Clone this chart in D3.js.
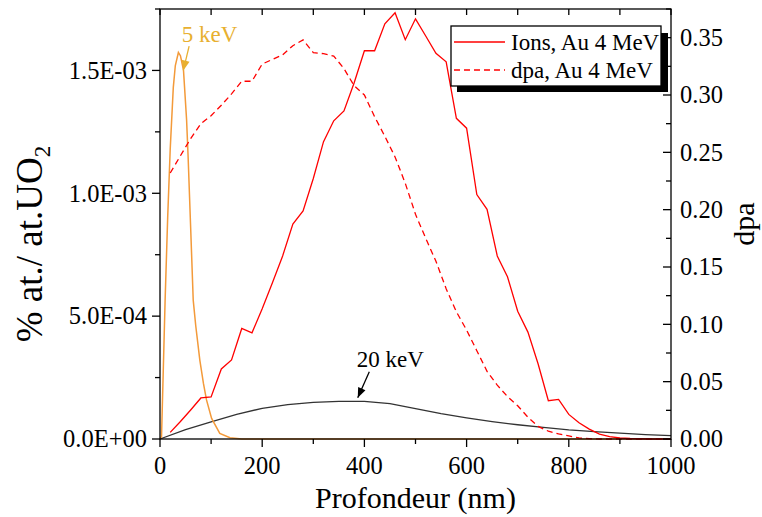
<!DOCTYPE html>
<html><head><meta charset="utf-8">
<script src="https://cdn.jsdelivr.net/npm/d3@7"></script>
<style>body{margin:0;background:#fff}svg{display:block}text{font-family:"Liberation Serif","Times New Roman",serif}</style>
</head><body>
<svg id="c" width="762" height="517"></svg>
<script>
// ---- data ----
const ionsX = [20,40,60,80,100,120,140,160,180,200,220,240,260,280,300,320,340,360,380,400,420,440,460,480,500,520,540,560,580,600,620,640,660,680,700,720,740,760,780,800,820,840,860,880,900,920,940,960,980,1000];
const ionsY = [0.27e-4,0.71e-4,1.18e-4,1.67e-4,1.71e-4,2.85e-4,3.22e-4,4.50e-4,4.32e-4,5.3e-4,6.36e-4,7.45e-4,8.75e-4,9.28e-4,10.6e-4,12.1e-4,12.95e-4,13.35e-4,14.5e-4,15.8e-4,15.8e-4,16.9e-4,17.35e-4,16.25e-4,17.1e-4,16.4e-4,15.7e-4,15.35e-4,13.05e-4,12.65e-4,9.95e-4,9.35e-4,7.45e-4,6.6e-4,5.2e-4,4.35e-4,3.05e-4,1.56e-4,1.61e-4,1.0e-4,0.66e-4,0.40e-4,0.20e-4,0.10e-4,0.04e-4,0.02e-4,0.01e-4,0,0,0];
const dpaX = [20,40,60,80,100,120,140,160,180,200,220,240,260,280,300,320,340,360,380,400,420,440,460,480,500,520,540,560,580,600,620,640,660,680,700,720,740,760,780,800,820,840,860,880,900,920,940,960,980,1000];
const dpaY = [0.232,0.247,0.262,0.275,0.282,0.291,0.301,0.312,0.312,0.327,0.331,0.335,0.343,0.348,0.337,0.336,0.334,0.323,0.308,0.300,0.281,0.264,0.246,0.223,0.196,0.175,0.155,0.131,0.111,0.095,0.077,0.059,0.047,0.037,0.029,0.019,0.011,0.0068,0.0045,0.0027,0.001,0.0003,0,0,0,0,0,0,0,0];
const kev5X = [0,3,10,15,20,26,30,36,40,46,52,55,60,65,70,78,85,91,101,117,137,160,200,400,600,800,1000];
const kev5Y = [0,0.1e-4,5.65e-4,9.0e-4,11.8e-4,14.3e-4,15.2e-4,15.73e-4,15.6e-4,15.0e-4,13.0e-4,11.5e-4,8.6e-4,5.65e-4,4.6e-4,3.2e-4,2.26e-4,1.59e-4,0.84e-4,0.23e-4,0.05e-4,0,0,0,0,0,0];
const kev20X = [0,50,100,150,200,250,300,350,400,450,500,550,600,650,700,750,800,850,900,950,1000];
const kev20Y = [0,0.38e-4,0.70e-4,1.0e-4,1.25e-4,1.40e-4,1.49e-4,1.535e-4,1.535e-4,1.44e-4,1.24e-4,1.03e-4,0.86e-4,0.71e-4,0.58e-4,0.47e-4,0.37e-4,0.30e-4,0.24e-4,0.18e-4,0.135e-4];
const xTicks = [0,200,400,600,800,1000];
const yLeftTicks = [0,5e-4,1e-3,1.5e-3];
const yLeftLabels = ["0.0E+00","5.0E-04","1.0E-03","1.5E-03"];
const yRightTicks = [0,0.05,0.10,0.15,0.20,0.25,0.30,0.35];
const legendLabels = ["Ions, Au 4 MeV","dpa, Au 4 MeV"];

// ---- layout ----
const svg = d3.select("#c");
const L=160,R=671,T=9,B=439;
const x = d3.scaleLinear().domain([0,1000]).range([L,R]);
const yL = d3.scaleLinear().domain([0,1.75e-3]).range([B,T]);
const yR = d3.scaleLinear().domain([0,0.375]).range([B,T]);
const FS=24.5;

// curves
const line = (xs,ys,ys2)=>d3.line().x((d,i)=>x(xs[i])).y((d,i)=>ys2(d))(ys);
svg.append("path").attr("d",line(kev20X,kev20Y,yL)).attr("fill","none").attr("stroke","#333").attr("stroke-width",1.3);
svg.append("path").attr("d",line(kev5X,kev5Y,yL)).attr("fill","none").attr("stroke","#f39a3a").attr("stroke-width",1.5);
svg.append("path").attr("d",line(dpaX,dpaY,yR)).attr("fill","none").attr("stroke","#ff0000").attr("stroke-width",1.3).attr("stroke-dasharray","6,4");
svg.append("path").attr("d",line(ionsX,ionsY,yL)).attr("fill","none").attr("stroke","#ff0000").attr("stroke-width",1.3);

// axes
const ax = svg.append("g").attr("stroke","#000").attr("stroke-width",1.3);
d3.range(0,1001,100).forEach(v=>{
  const maj = v%200===0;
  ax.append("line").attr("x1",x(v)).attr("x2",x(v)).attr("y1",B).attr("y2",B+(maj?8:5));
  ax.append("line").attr("x1",x(v)).attr("x2",x(v)).attr("y1",T).attr("y2",T+6);
});
xTicks.forEach(v=>svg.append("text").attr("x",x(v)).attr("y",B+35).attr("text-anchor","middle").attr("font-size",FS).text(v));
d3.range(0,7.01).forEach(k=>{
  const v=k*2.5e-4, maj=k%2===0;
  ax.append("line").attr("x1",L-(maj?8:5)).attr("x2",L).attr("y1",yL(v)).attr("y2",yL(v));
});
yLeftTicks.forEach((v,i)=>svg.append("text").attr("x",L-13).attr("y",yL(v)).attr("dy","0.34em").attr("text-anchor","end").attr("font-size",FS).text(yLeftLabels[i]));
d3.range(0,15.01).forEach(k=>{
  const v=k*0.025, maj=k%2===0;
  ax.append("line").attr("x1",R-(maj?8:5)).attr("x2",R).attr("y1",yR(v)).attr("y2",yR(v));
});
yRightTicks.forEach(v=>svg.append("text").attr("x",R+9).attr("y",yR(v)).attr("dy","0.34em").attr("font-size",FS).text(d3.format(".2f")(v)));
ax.append("rect").attr("x",L).attr("y",T).attr("width",R-L).attr("height",B-T).attr("fill","none");

// titles
svg.append("text").attr("x",(L+R)/2).attr("y",508).attr("text-anchor","middle").attr("font-size",30).text("Profondeur (nm)");
const lt = svg.append("text").attr("transform","translate(42,244) rotate(-90)").attr("text-anchor","middle").attr("font-size",37);
lt.append("tspan").text("% at./ at.UO");
lt.append("tspan").attr("font-size",23).attr("dy",8).text("2");
svg.append("text").attr("transform","translate(754,224) rotate(-90)").attr("text-anchor","middle").attr("font-size",30).text("dpa");

// annotations
function arrow(x1,y1,x2,y2,col){
  svg.append("line").attr("x1",x1).attr("y1",y1).attr("x2",x2).attr("y2",y2).attr("stroke",col).attr("stroke-width",1.3);
  const a=Math.atan2(y2-y1,x2-x1), h=10, w=4;
  const bx=x2-h*Math.cos(a), by=y2-h*Math.sin(a);
  svg.append("path").attr("d",`M${x2},${y2}L${bx+w*Math.sin(a)},${by-w*Math.cos(a)}L${bx-w*Math.sin(a)},${by+w*Math.cos(a)}Z`).attr("fill",col);
}
svg.append("text").attr("x",x(42.5)).attr("y",yL(1.617e-3)).attr("font-size",23).attr("fill","#e8b030").text("5 keV");
arrow(x(57),yL(1.599e-3),x(45.6),yL(1.50e-3),"#e8b030");
svg.append("text").attr("x",x(385)).attr("y",yL(2.93e-4)).attr("font-size",23).attr("fill","#000").text("20 keV");
arrow(x(409.6),yL(2.74e-4),x(387),yL(1.68e-4),"#000");

// legend
const lg = svg.append("g");
lg.append("rect").attr("x",457).attr("y",33).attr("width",211).attr("height",59).attr("fill","#000");
lg.append("rect").attr("x",451).attr("y",26).attr("width",210).attr("height",60).attr("fill","#fff").attr("stroke","#000").attr("stroke-width",1.3);
legendLabels.forEach((t,i)=>{
  const yy = 42+i*28;
  lg.append("line").attr("x1",454).attr("x2",505).attr("y1",yy).attr("y2",yy).attr("stroke","#ff0000").attr("stroke-width",1.3).attr("stroke-dasharray",i?"6,4":null);
  lg.append("text").attr("x",511).attr("y",yy+8).attr("font-size",23).text(t);
});
</script>
</body></html>
